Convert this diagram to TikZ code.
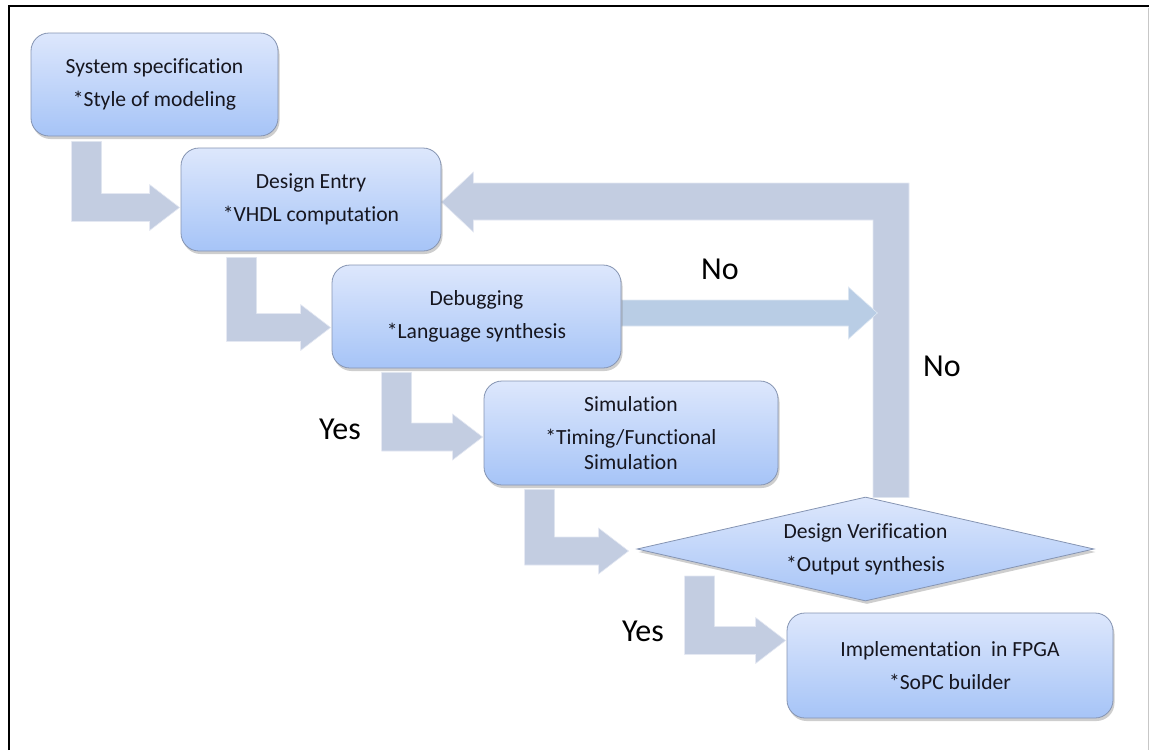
\documentclass[tikz,border=0pt]{standalone}
\usepackage{fontspec}
\setmainfont{Carlito}[Ligatures=CommonOff]
\usetikzlibrary{calc,shapes.geometric,shadows}
\pgfdeclarelayer{background}
\pgfsetlayers{background,main}

\definecolor{boxtop}{HTML}{DDE7FC}
\definecolor{boxbot}{HTML}{A6C4F7}
\definecolor{boxline}{HTML}{8594B2}
\definecolor{flowfill}{HTML}{C3CDE1}
\definecolor{nofill}{HTML}{B9CDE5}
\definecolor{inktext}{HTML}{16161F}

\tikzset{
  x=1pt, y=-1pt,
  boxbase/.style={draw=boxline, line width=0.8pt,
    top color=boxtop, bottom color=boxbot, align=center, text=inktext,
    font=\fontsize{21.6}{25}\selectfont, inner sep=0pt,
    drop shadow={shadow xshift=1.5pt, shadow yshift=-3pt, opacity=0.35, fill=black!55}},
  stage/.style={boxbase, rectangle, rounded corners=18pt},
  decision/.style={boxbase, diamond, aspect=4.4},
  flow/.style={fill=flowfill, draw=white!55!flowfill, line width=0.6pt},
  noflow/.style={fill=nofill, draw=white!55!nofill, line width=0.6pt},
  answer/.style={font=\fontsize{32}{36}\selectfont, text=black, inner sep=0pt}
}

% L-shaped block arrow: #1 = top-left corner of the vertical shaft, #2 = tip
\newcommand\bentflow[2]{%
  \path #1 coordinate (bf-s);
  \path #2 coordinate (bf-t);
  \fill[flow] (bf-s) -- ++(30,0) |- ($(bf-t)+(-30,-14)$) -- ++(0,-9) -- (bf-t)
    -- ++(-30,23) -- ++(0,-9) -| (bf-s) -- cycle;
}

\begin{document}
\begin{tikzpicture}
\useasboundingbox (0,0) rectangle (1149,750);

% page frame
\draw[line width=2.4pt] (8.7,750) -- (8.7,6.2) -- (1149,6.2);
\draw[black!22, line width=1pt] (1148,7.5) -- (1148,750);

% stages of the design flow
\node[stage, minimum width=247pt, minimum height=103pt] (spec) at (154.5,84.5)
  {System specification\\[8pt]*Style of modeling};
\node[stage, minimum width=260pt, minimum height=103pt] (entry) at (311,199.5)
  {Design Entry\\[8pt]*VHDL computation};
\node[stage, minimum width=289pt, minimum height=103pt] (debug) at (476.5,316.5)
  {Debugging\\[8pt]*Language synthesis};
\node[stage, minimum width=294pt, minimum height=104pt] (sim) at (631,433)
  {Simulation\\[8pt]*Timing/Functional\\Simulation};
\node[decision, minimum width=457pt, minimum height=104pt] (verify) at (865.5,549)
  {Design Verification\\[8pt]*Output synthesis};
\node[stage, minimum width=326pt, minimum height=105pt] (impl) at (950,665.5)
  {Implementation\ \ in FPGA\\[8pt]*SoPC builder};

% decision labels
\node[answer] (no1) at (720,269) {No};
\node[answer] (no2) at (942,366) {No};
\node[answer] (yes1) at (340,429) {Yes};
\node[answer] (yes2) at (643,631) {Yes};

% block arrows behind the stages
\begin{pgfonlayer}{background}
  \bentflow{($(spec.south west)+(41,5)$)}{($(entry.west)+(-1,8)$)}
  \bentflow{($(entry.south west)+(46,6)$)}{($(debug.west)+(-1,11)$)}
  \bentflow{($(debug.south west)+(50,4)$)}{($(sim.west)+(-1,4)$)}
  \bentflow{($(sim.south west)+(41,4)$)}{($(verify.west)+(-8,2)$)}
  \bentflow{($(verify.west)+(48,27)$)}{($(impl.west)+(-1,-25)$)}

  % feedback loop from the verification back to design entry
  \path ($(verify.north)+(7.5,1)$) coordinate (fb-s);
  \path ($(entry.east)+(0,2.5)$) coordinate (fb-t);
  \fill[flow] (fb-s) -- ++(36,0) |- ($(fb-t)+(32,-19)$) -- ++(0,-11) -- (fb-t)
    -- ++(32,30) -- ++(0,-12) -| (fb-s) -- cycle;

  % failed debugging joins the feedback loop
  \path ($(debug.east)+(0,-3.5)$) coordinate (no-s) ++(256,0) coordinate (no-t);
  \fill[noflow] ($(no-s)+(0,-13)$) -- ($(no-t)+(-29,-13)$) -- ++(0,-13) -- (no-t)
    -- ++(-29,26) -- ++(0,-13) -- ($(no-s)+(0,13)$) -- cycle;
\end{pgfonlayer}
\end{tikzpicture}
\end{document}
